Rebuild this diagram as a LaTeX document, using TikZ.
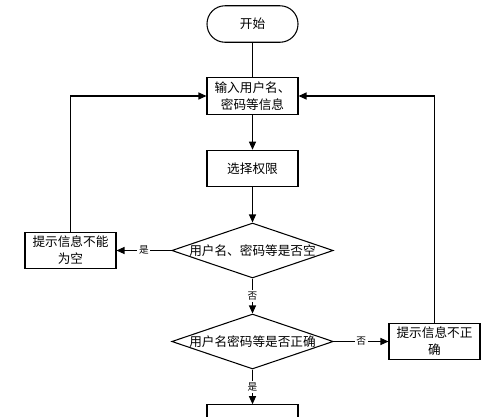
\documentclass[tikz,border=0pt]{standalone}
\usepackage{fontspec}
\newfontfamily\cjk{Noto Sans CJK SC}
\usetikzlibrary{shapes.geometric,arrows.meta}
\begin{document}
\begin{tikzpicture}[
  x=0.02cm, y=-0.02cm,
  line width=0.6pt,
  every node/.style={font=\cjk\fontsize{7.2}{9.6}\selectfont},
  proc/.style={draw, minimum width=1.82cm, minimum height=0.73cm, align=center, inner sep=1pt},
  term/.style={proc, rounded corners=0.36cm},
  decision/.style={draw, diamond, inner sep=0pt, minimum width=3.23cm, minimum height=1.1cm},
  flow/.style={-{Triangle[length=1.6mm,width=1.4mm]}},
  ans/.style={fill=white, inner sep=1pt, font=\cjk\fontsize{5.5}{6}\selectfont},
]
  \useasboundingbox (0,0) rectangle (500,416);

  \node[term] (start) at (252.5,24) {开始};
  \node[proc] (input) at (252.5,96) {输入用户名、\\密码等信息};
  \node[proc] (role) at (252.5,168.5) {选择权限};
  \node[decision, label=center:{用户名、密码等是否空}] (qempty) at (252.5,250.5) {};
  \node[decision, label=center:{用户名密码等是否正确}] (qcheck) at (252.5,341.5) {};
  \node[proc] (msgempty) at (70.5,250.5) {提示信息不能\\为空};
  \node[proc] (msgwrong) at (434.5,341.5) {提示信息不正\\确};
  \node[proc] (next) at (252.5,423) {};

  \draw (start) -- (input);
  \draw[flow] (input) -- (role);
  \draw[flow] (role) -- (qempty);
  \draw[flow] (qempty.west) -- node[ans] {是} (msgempty);
  \draw[flow] (qempty.south) -- node[ans] {否} (qcheck.north);
  \draw[flow] (qcheck.east) -- node[ans] {否} (msgwrong);
  \draw[flow] (qcheck.south) -- node[ans] {是} (next);
  \draw[flow] (msgempty.north) |- (input.west);
  \draw[flow] (msgwrong.north) |- (input.east);
\end{tikzpicture}
\end{document}
